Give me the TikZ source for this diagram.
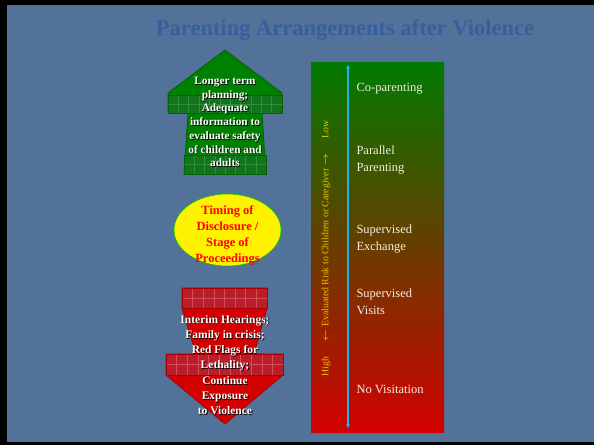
\documentclass[tikz,border=0pt]{standalone}
\usepackage{fontspec}
\setmainfont{Liberation Serif}
\usepackage{amsmath}
\usetikzlibrary{shapes.geometric}
\usetikzlibrary{arrows.meta}

\definecolor{slideblue}{RGB}{82,114,154}
\definecolor{titleblue}{RGB}{55,95,158}
\definecolor{arrowgreen}{RGB}{0,128,0}
\definecolor{edgegreen}{RGB}{0,100,0}
\definecolor{bandgreen}{RGB}{20,115,30}
\definecolor{gridgreen}{RGB}{45,145,55}
\definecolor{arrowred}{RGB}{210,0,0}
\definecolor{edgered}{RGB}{170,0,0}
\definecolor{bandred}{RGB}{185,30,45}
\definecolor{gridred}{RGB}{215,75,85}
\definecolor{riskgold}{RGB}{230,195,0}
\definecolor{scalecyan}{RGB}{30,180,230}
\definecolor{scaletext}{RGB}{245,240,225}

\tikzset{
  arrowtext/.style={align=center, text=white, font=\fontsize{11.3}{13.7}\selectfont\bfseries},
  arrowshadow/.style={arrowtext, text=black},
  level/.style={anchor=west, align=left, text=scaletext, font=\fontsize{12.5}{16.5}\selectfont},
}

\begin{document}
\begin{tikzpicture}[x=1pt,y=-1pt]
      \useasboundingbox (0,0) rectangle (594,445);

      % slide background and frame
      \fill[black] (0,0) rectangle (594,445);
      \fill[slideblue] (7,5) rectangle (594,442);

      % title
      \node[text=titleblue, font=\fontsize{22.5}{22.5}\selectfont\bfseries] (title) at (345,30) {Parenting Arrangements after Violence};

      % green arrow pointing up
      \fill[arrowgreen, draw=edgegreen, line width=0.8pt]
        (225,50) -- (282,93) -- (282,113) -- (262,113) -- (266,174)
        -- (184,174) -- (188,113) -- (168,113) -- (168,93) -- cycle;
      \fill[bandgreen] (168,95) rectangle (282,113);
      \fill[bandgreen] (184,155) rectangle (266,174);
      \foreach \i in {1,...,10}
        \draw[gridgreen, line width=0.5pt] (168+\i*10.36,95) -- ++(0,18);
      \foreach \i in {1,...,7}
        \draw[gridgreen, line width=0.5pt] (184+\i*10.25,155) -- ++(0,19);
      \draw[gridgreen, line width=0.5pt] (168,104) -- (282,104);
      \draw[gridgreen, line width=0.5pt] (184,164.5) -- (266,164.5);
      \draw[edgegreen, line width=0.8pt] (168,95) rectangle (282,113);
      \draw[edgegreen, line width=0.8pt] (184,155) rectangle (266,174);

      % red arrow pointing down
      \fill[arrowred, draw=edgered, line width=0.8pt]
        (182,288) -- (267,288) -- (267,308) -- (254,354) -- (283,354) -- (283,375)
        -- (225,424) -- (166,375) -- (166,354) -- (196,354) -- (182,308) -- cycle;
      \fill[bandred] (182,288) rectangle (267,308);
      \fill[bandred] (166,354) rectangle (283,375);
      \foreach \i in {1,...,7}
        \draw[gridred, line width=0.5pt] (182+\i*10.62,288) -- ++(0,20);
      \foreach \i in {1,...,10}
        \draw[gridred, line width=0.5pt] (166+\i*10.64,354) -- ++(0,21);
      \draw[gridred, line width=0.5pt] (182,298) -- (267,298);
      \draw[gridred, line width=0.5pt] (166,364.5) -- (283,364.5);
      \draw[edgered, line width=0.8pt] (182,288) rectangle (267,308);
      \draw[edgered, line width=0.8pt] (166,354) rectangle (283,375);

      % text on the arrows
      \node[arrowshadow] (upshadow) at (225.8,122.8) {Longer term\\planning;\\Adequate\\information to\\evaluate safety\\of children and\\adults};
      \node[arrowtext] (uptext) at (225,122) {Longer term\\planning;\\Adequate\\information to\\evaluate safety\\of children and\\adults};
      \node[arrowshadow, font=\fontsize{11.5}{15.3}\selectfont\bfseries] (downshadow) at (225.8,365.8) {Interim Hearings;\\Family in crisis;\\Red Flags for\\Lethality;\\Continue\\Exposure\\to Violence};
      \node[arrowtext, font=\fontsize{11.5}{15.3}\selectfont\bfseries] (downtext) at (225,365) {Interim Hearings;\\Family in crisis;\\Red Flags for\\Lethality;\\Continue\\Exposure\\to Violence};

      % yellow ellipse in between
      \node[ellipse, fill=yellow, draw=green!80!black, line width=0.6pt,
            minimum width=107pt, minimum height=72pt, inner sep=0pt] (timing) at (227.5,230) {};
      \node[align=center, text=red, font=\fontsize{12.5}{16.2}\selectfont\bfseries] (timingtext) at (227.5,235.5)
        {Timing of\\Disclosure /\\Stage of\\Proceedings};

      % scale of arrangements
      \shade[top color=arrowgreen!95!black, middle color={rgb,255:red,140;green,104;blue,0}, bottom color=arrowred]
        (311,62) rectangle (444,432);
      \coordinate (scaletop) at (348,65);
      \coordinate (scalebot) at (348,428);
      \draw[scalecyan, line width=1.2pt, {Stealth[length=4pt,width=4pt]}-{Stealth[length=4pt,width=4pt]}] (scalebot) -- (scaletop);

      \node[riskgold, rotate=90, font=\fontsize{9.8}{9.8}\selectfont] (risk) at (326,248.5)
        {High\hspace{1.6em}$\boldsymbol{\leftarrow}$\hspace{0.3em}Evaluated Risk to Children or Caregiver\hspace{0.3em}$\boldsymbol{\rightarrow}$\hspace{1.6em}Low};

      \node[level] (coparent) at (353,89) {Co-parenting};
      \node[level] (parallel) at (353,160) {Parallel\\Parenting};
      \node[level] (exchange) at (353,239) {Supervised\\Exchange};
      \node[level] (visits) at (353,302) {Supervised\\Visits};
      \node[level] (novisit) at (353,389) {No Visitation};
    \end{tikzpicture}
\end{document}
